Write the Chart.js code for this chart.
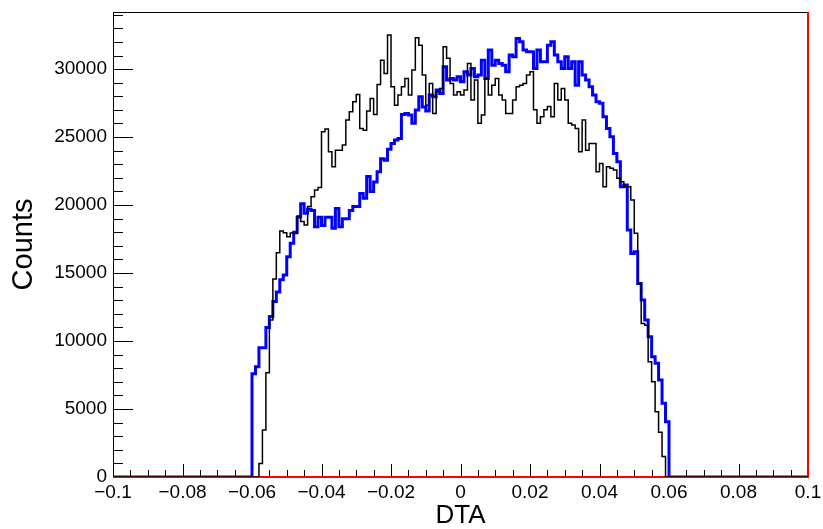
<!DOCTYPE html>
<html>
<head>
<meta charset="utf-8">
<script src="https://cdn.jsdelivr.net/npm/chart.js@4/dist/chart.umd.min.js"></script>
<style>
  html, body { margin: 0; padding: 0; background: #fff; }
  #dtaChart { display: block; }
</style>
</head>
<body>
<canvas id="dtaChart" width="823" height="529"></canvas>
<script>
// histogram binning (DTA axis)
const xMin = -0.1;
const xMax = 0.1;
const binWidth = 0.001;
const firstFilledBin = -0.060; // low edge of first entry in the count arrays

// blue histogram, bins -0.060 ... 0.059
const blueCounts = [
  7600, 8100, 9500, 9500, 11000, 11800, 12900, 13600, 14500, 14850,
  16200, 17200, 18000, 19100, 20100, 19400, 19700, 19600, 18400, 19100,
  18500, 19100, 19100, 18300, 19750, 18400, 19000, 19000, 19600, 19900,
  19900, 20860, 20500, 22100, 21000, 21700, 22450, 23400, 23300, 24100,
  24530, 24780, 24900, 26670, 26740, 26620, 26010, 26990, 27970, 27210,
  26910, 28090, 27970, 28460, 28210, 30170, 29190, 29310, 29190, 29440,
  29070, 29800, 29560, 30050, 29440, 29560, 30660, 29310, 31400, 30290,
  30660, 30420, 30290, 29800, 31030, 30910, 32250, 32010, 31400, 31270,
  31270, 30050, 31400, 30540, 30540, 31760, 32010, 31030, 30540, 30050,
  30910, 30050, 30540, 28820, 30540, 29560, 29190, 28700, 28090, 27600,
  27480, 26490, 25640, 25030, 23790, 23190, 21350, 21470, 18160, 16440,
  16560, 14230, 13010, 11540, 10320, 8850, 8360, 7140, 5420, 4070
];

// black histogram, same bins
const blackCounts = [
  0, 0, 1000, 3450, 7670, 11540, 14560, 16490, 18090, 17960,
  17670, 17940, 17900, 19190, 18800, 18530, 19900, 20610, 21100, 21300,
  25390, 25590, 23920, 22820, 24040, 24040, 24410, 26250, 26860, 27600,
  28140, 25640, 25510, 26910, 27840, 26670, 28870, 30660, 29680, 32500,
  28700, 27350, 28090, 28700, 29310, 28090, 29930, 32300, 31760, 29560,
  27350, 28950, 26740, 28330, 28580, 31640, 30790, 28950, 28090, 28330,
  28090, 28460, 30420, 27720, 29190, 26010, 26620, 29310, 28090, 28820,
  29310, 28090, 27720, 26740, 26740, 27720, 28700, 28820, 28950, 29560,
  29800, 27010, 26010, 26500, 27010, 27250, 26500, 28950, 27720, 28580,
  27720, 26010, 25890, 25640, 23920, 26250, 24040, 24530, 24530, 22450,
  23060, 21350, 22810, 22700, 22580, 21970, 21720, 21350, 21350, 20370,
  17920, 14230, 11290, 11170, 8480, 7000, 4800, 3300, 1500, 0
];

// red histogram: empty over the range, its edge line runs up at the upper limit
const redEdgeX = [-0.1, 0.1, 0.1];
const redEdgeCounts = [0, 0, 34200];

const yMax = 34200;
const xMajorTicks = [-0.1, -0.08, -0.06, -0.04, -0.02, 0, 0.02, 0.04, 0.06, 0.08, 0.1];
const xMinorStep = 0.005;
const yMajorTicks = [0, 5000, 10000, 15000, 20000, 25000, 30000];
const yMinorStep = 1000;

function histPoints(counts) {
  const nBins = Math.round((xMax - xMin) / binWidth);
  const offset = Math.round((firstFilledBin - xMin) / binWidth);
  const full = new Array(nBins).fill(0);
  counts.forEach((c, i) => { full[offset + i] = c; });
  const pts = full.map((c, i) => ({ x: xMin + i * binWidth, y: c }));
  pts.push({ x: xMax, y: full[nBins - 1] });
  return pts;
}

function fmtTick(v) {
  const r = Math.round(v * 1000) / 1000;
  return String(r).replace('-', '\u2212');
}

const fontFamily = '"Liberation Sans", Arial, Helvetica, sans-serif';

// ROOT style frame with inward ticks, drawn under the histograms
const frameTicks = {
  id: 'frameTicks',
  beforeDatasetsDraw(chart) {
    const { ctx, chartArea: a, scales: { x, y } } = chart;
    ctx.save();
    ctx.strokeStyle = '#000';
    ctx.lineWidth = 1;
    ctx.beginPath();
    for (let v = xMin; v <= xMax + 1e-9; v += xMinorStep) {
      const px = Math.round(x.getPixelForValue(v)) + 0.5;
      const major = xMajorTicks.some(t => Math.abs(t - v) < 1e-6);
      ctx.moveTo(px, a.bottom);
      ctx.lineTo(px, a.bottom - (major ? 13 : 7));
    }
    for (let v = 0; v <= yMax; v += yMinorStep) {
      const py = Math.round(y.getPixelForValue(v)) + 0.5;
      const major = yMajorTicks.includes(v);
      ctx.moveTo(a.left, py);
      ctx.lineTo(a.left + (major ? 20 : 10), py);
    }
    ctx.stroke();
    ctx.strokeRect(Math.round(a.left) + 0.5, Math.round(a.top) + 0.5,
      Math.round(a.right - a.left), Math.round(a.bottom - a.top));
    ctx.restore();
  }
};

const config = {
  type: 'line',
  data: {
    datasets: [
      {
        label: 'black',
        data: histPoints(blackCounts),
        borderColor: '#000000',
        borderWidth: 1.5,
        stepped: 'before',
        pointRadius: 0,
        fill: false
      },
      {
        label: 'red',
        data: redEdgeX.map((xv, i) => ({ x: xv, y: redEdgeCounts[i] })),
        borderColor: '#ff0000',
        borderWidth: 2,
        pointRadius: 0,
        fill: false,
        clip: false
      },
      {
        label: 'blue',
        data: histPoints(blueCounts),
        borderColor: '#0000ff',
        borderWidth: 3,
        stepped: 'before',
        pointRadius: 0,
        fill: false
      }
    ]
  },
  options: {
    responsive: false,
    animation: false,
    layout: { padding: { top: 12, right: 15, left: 0, bottom: 0 } },
    plugins: { legend: { display: false }, tooltip: { enabled: false } },
    scales: {
      x: {
        type: 'linear',
        min: xMin,
        max: xMax,
        grid: { display: false, drawTicks: false },
        border: { display: false },
        afterBuildTicks(scale) { scale.ticks = xMajorTicks.map(v => ({ value: v })); },
        ticks: {
          callback: fmtTick,
          color: '#000',
          font: { family: fontFamily, size: 19 },
          padding: 4,
          maxRotation: 0,
          autoSkip: false
        },
        title: {
          display: true,
          text: 'DTA',
          color: '#000',
          font: { family: fontFamily, size: 26, lineHeight: 1 },
          padding: { top: 0, bottom: 0 }
        },
        afterFit(scale) {
          scale.height = 52;
          scale.paddingLeft = 0;
          scale.paddingRight = 0;
        }
      },
      y: {
        type: 'linear',
        min: 0,
        max: yMax,
        grid: { display: false, drawTicks: false },
        border: { display: false },
        afterBuildTicks(scale) { scale.ticks = yMajorTicks.map(v => ({ value: v })); },
        ticks: {
          callback: v => String(v),
          color: '#000',
          font: { family: fontFamily, size: 19 },
          padding: 6
        },
        title: {
          display: true,
          text: 'Counts',
          color: '#000',
          font: { family: fontFamily, size: 29, lineHeight: 1 },
          padding: { top: 9, bottom: 0 }
        },
        afterFit(scale) {
          scale.width = 113;
          scale.paddingTop = 0;
          scale.paddingBottom = 0;
        }
      }
    }
  },
  plugins: [frameTicks]
};

new Chart(document.getElementById('dtaChart').getContext('2d'), config);
</script>
</body>
</html>
